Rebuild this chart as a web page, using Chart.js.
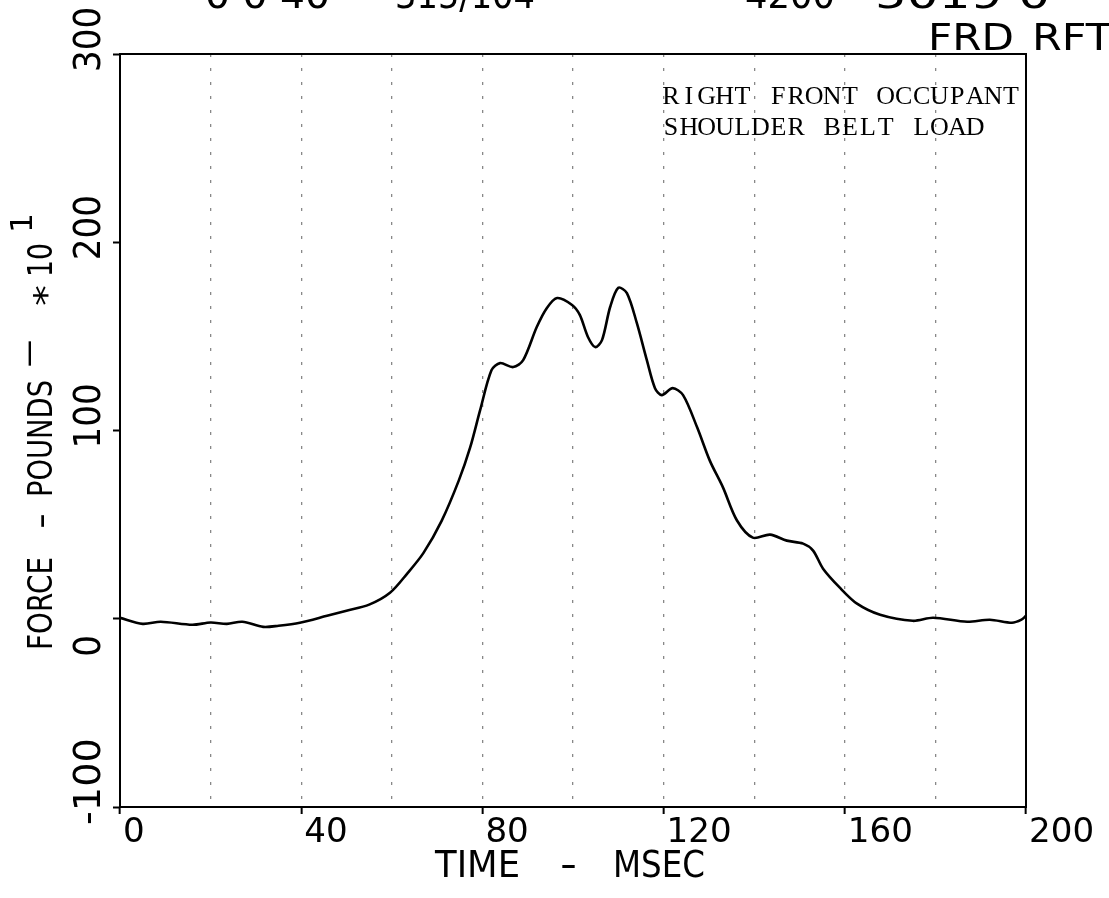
<!DOCTYPE html>
<html>
<head>
<meta charset="utf-8">
<script src="https://cdn.jsdelivr.net/npm/chart.js@4.4.1/dist/chart.umd.min.js"></script>
<style>
  body { margin: 0; background: #fff; }
  #wrap { width: 1109px; height: 898px; position: relative; }
</style>
</head>
<body>
<div id="wrap"><canvas id="beltChart"></canvas></div>
<script>
// shoulder belt load trace (force in pounds * 10)
const timeMs = [0, 5, 9, 16, 20, 23.6, 27, 31.6, 35, 39.7, 45.7, 50, 55, 59.6, 63.4, 67, 71, 74.8,
  77.3, 79.5, 82, 83.9, 86.8, 89, 92, 94.2, 96.5, 99.8, 101.5, 103.3, 104.9, 106.4, 108.2,
  110, 111.9, 114.1, 116.3, 118.1, 119.6, 122, 124.3, 127.4, 130.2, 133.1, 136.2, 139.7, 143.5,
  147.2, 150.8, 153, 155.2, 158.9, 162.7, 167.8, 175, 179.5, 187, 192, 196.9, 199, 200];
const forceVal = [0.5, -2.7, -1.6, -3.2, -2, -2.7, -1.6, -4.3, -3.7, -2.1, 1.6, 4.3, 7.5, 13.8, 24, 35, 52, 73.5,
  91, 110.8, 132, 135.8, 133.7, 137.4, 155, 165, 170.4, 166.7, 161.4, 149.7, 144.3, 148, 165.6,
  175.8, 173, 157, 137.4, 122.5, 118.8, 122.5, 118.8, 101.7, 84, 69.8, 52.2, 43.1, 44.7,
  41.5, 39.9, 36.2, 26.6, 16.5, 8, 2.1, -1.1, 0.5, -1.6, -0.5, -2.1, -0.5, 1.6];

const xTickLabels = [0, 40, 80, 120, 160, 200];
const yTickLabels = [300, 200, 100, 0, -100];
const noteLines = ['RIGHT FRONT OCCUPANT', 'SHOULDER BELT LOAD'];
const headerBits = ['0 0 40', '315/104', '4200', '5019 0'];
const plotId = ['FRD', 'RFT'];

const points = timeMs.map((t, i) => ({x: t, y: forceVal[i]}));

// squeeze/stretch text so it covers exactly w pixels (plotter lettering is fixed pitch)
function fitText(ctx, text, x, y, w) {
    const nat = ctx.measureText(text).width;
    ctx.save();
    ctx.translate(x, y);
    ctx.scale(w / nat, 1);
    ctx.fillText(text, 0, 0);
    ctx.restore();
}

const plotterText = {
    id: 'plotterText',
    beforeDraw(chart) {
        const c = chart.ctx;
        c.save();
        c.fillStyle = '#fff';
        c.fillRect(0, 0, chart.width, chart.height);
        c.restore();
    },
    afterDraw(chart) {
        const c = chart.ctx;
        const xs = chart.scales.x;
        const ys = chart.scales.y;
        const a = chart.chartArea;
        c.save();
        c.fillStyle = '#000';
        c.textBaseline = 'alphabetic';
        c.textAlign = 'left';

        // frame
        c.strokeStyle = '#000';
        c.lineWidth = 2;
        c.setLineDash([]);
        c.strokeRect(a.left, a.top, a.right - a.left, a.bottom - a.top);

        // x tick labels start at the tick
        c.font = '33px "DejaVu Sans"';
        xTickLabels.forEach(v => {
            const s = String(v);
            fitText(c, s, xs.getPixelForValue(v) + 3, 842, s.length * 21.7);
        });

        // y tick labels, rotated, reading upwards
        c.font = '38px "DejaVu Sans"';
        yTickLabels.forEach(v => {
            const s = String(v);
            const py = ys.getPixelForValue(v);
            c.save();
            c.translate(100, py + (s.length === 1 ? 38 : 18));
            c.rotate(-Math.PI / 2);
            fitText(c, s, 0, 0, s.length * 21.7);
            c.restore();
        });

        // x title
        c.font = '37px "DejaVu Sans"';
        fitText(c, 'TIME', 435, 877, 85);
        fitText(c, '-', 560, 877, 17);
        fitText(c, 'MSEC', 613, 877, 92);

        // y title
        c.save();
        c.translate(52, 0);
        c.rotate(-Math.PI / 2);
        c.font = '34px "DejaVu Sans"';
        fitText(c, 'FORCE', -650, 0, 93);
        fitText(c, '-', -529, 0, 16);
        fitText(c, 'POUNDS', -497, 0, 117);
        fitText(c, '\u2014', -367, -13, 27);
        fitText(c, '*', -306, 6, 21);
        fitText(c, '10', -277, 0, 34);
        c.font = '30px "DejaVu Sans"';
        fitText(c, '1', -233, -20, 20);
        c.restore();

        // header line, mostly cut off by the top edge
        c.font = '38px "DejaVu Sans"';
        const hx = [205, 395, 745, 875];
        const hw = [125, 140, 90, 175];
        headerBits.forEach((s, i) => fitText(c, s, hx[i], 8, hw[i]));
        fitText(c, plotId[0], 928, 50, 86);
        fitText(c, plotId[1], 1032, 50, 80);

        // note, typewriter style on a fixed pitch
        c.font = '26px "Liberation Serif"';
        c.textAlign = 'center';
        noteLines.forEach((line, li) => {
            for (let i = 0; i < line.length; i++) {
                c.fillText(line[i], 662 + 17.9 * (i + 0.5), 104 + li * 31);
            }
        });
        c.restore();
    }
};

const ctx = document.getElementById('beltChart');

const beltChart = new Chart(ctx, {
    type: 'line',
    data: {
        datasets: [{
            label: 'Shoulder belt load',
            data: points,
            borderColor: '#000',
            borderWidth: 2.6,
            tension: 0.3,
            pointRadius: 0,
            fill: false
        }]
    },
    options: {
        responsive: true,
        maintainAspectRatio: false,
        animation: false,
        layout: {
            padding: {left: 113, right: 83, top: 54, bottom: 84}
        },
        plugins: {
            legend: {display: false},
            tooltip: {enabled: false}
        },
        scales: {
            x: {
                type: 'linear',
                min: 0,
                max: 200,
                ticks: {display: false, stepSize: 20},
                border: {display: true, color: '#000', width: 2, dash: [3, 11]},
                grid: {
                    drawOnChartArea: true,
                    color: ctx => (ctx.tick && ctx.tick.value > 0 && ctx.tick.value < 200) ? '#888' : 'transparent',
                    lineWidth: 1.3,
                    tickLength: 7,
                    tickWidth: 2,
                    tickBorderDash: [],
                    tickColor: ctx => (ctx.tick && ctx.tick.value % 40 === 0) ? '#000' : 'transparent'
                }
            },
            y: {
                min: -100,
                max: 300,
                ticks: {display: false, stepSize: 100},
                border: {display: true, color: '#000', width: 2},
                grid: {
                    drawOnChartArea: false,
                    tickLength: 7,
                    tickWidth: 2,
                    tickColor: '#000'
                }
            }
        }
    },
    plugins: [plotterText]
});
</script>
</body>
</html>
